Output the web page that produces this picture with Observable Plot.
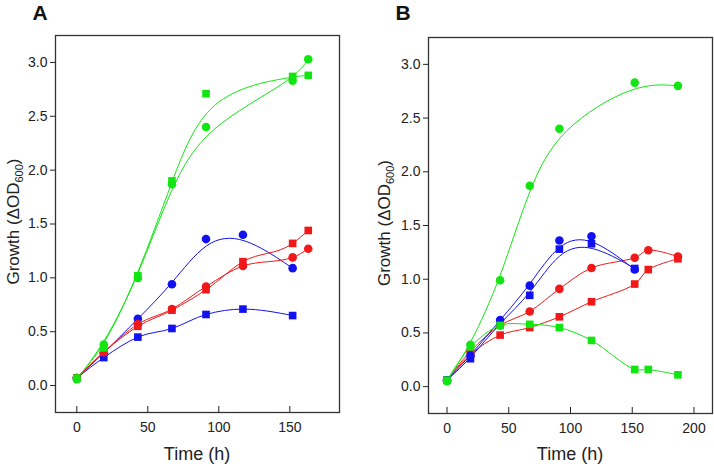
<!DOCTYPE html>
<html><head><meta charset="utf-8">
<script src="https://cdn.jsdelivr.net/npm/d3@7"></script>
<script src="https://cdn.jsdelivr.net/npm/@observablehq/plot@0.6"></script>
<style>
body{margin:0;background:#fff;}
#wrap{position:relative;width:714px;height:467px;font-family:"Liberation Sans",Arial,sans-serif;}
#wrap svg{position:absolute;top:0;}
</style></head><body><div id="wrap"></div>
<script>
// ---- data ----
const timeA = [0, 19, 43, 67, 91, 117, 152, 163];
const timeB = [0, 19, 43, 67, 91, 117, 152, 163, 187];
const yTicks = [0, 0.5, 1.0, 1.5, 2.0, 2.5, 3.0];
const xTicksA = [0, 50, 100, 150];
const xTicksB = [0, 50, 100, 150, 200];

// Panel A
const A_greenCircle = [0.06, 0.38, 1.00, 1.87, 2.40, null, 2.83, 3.03];
const A_greenSquare = [0.07, 0.35, 1.02, 1.90, 2.71, null, 2.87, 2.88];
const A_blueCircle  = [0.07, 0.30, 0.62, 0.94, 1.36, 1.40, 1.09, null];
const A_blueSquare  = [0.07, 0.26, 0.45, 0.53, 0.66, 0.71, 0.65, null];
const A_redCircle   = [0.07, 0.31, 0.57, 0.71, 0.92, 1.11, 1.19, 1.27];
const A_redSquare   = [0.07, 0.31, 0.55, 0.70, 0.89, 1.15, 1.32, 1.44];

// Panel B
const B_greenCircle = [0.05, 0.39, 0.99, 1.87, 2.40, null, 2.83, null, 2.80];
const B_greenSquare = [0.06, 0.37, 0.57, 0.58, 0.55, 0.43, 0.16, 0.16, 0.11];
const B_blueCircle  = [0.06, 0.29, 0.62, 0.94, 1.36, 1.40, 1.09, null, null];
const B_blueSquare  = [0.06, 0.26, 0.60, 0.85, 1.28, 1.33, 1.10, null, null];
const B_redCircle   = [0.06, 0.33, 0.57, 0.70, 0.91, 1.105, 1.20, 1.27, 1.21];
const B_redSquare   = [0.06, 0.30, 0.48, 0.55, 0.65, 0.79, 0.955, 1.09, 1.19];

// ---- styles ----
const GREEN = "#12e612", BLUE = "#1212f0", RED = "#f01818";

function rowsOf(times, values) {
  const r = [];
  values.forEach((v, i) => { if (v != null) r.push({t: times[i], v}); });
  return r;
}

function panel({series, xDomain, xTicks, left, width, ml, mr, mt, mb, letter, letterX, ylabX}) {
  const marks = [];
  for (const s of series) {
    marks.push(Plot.line(s.rows, {x: "t", y: "v", stroke: s.color, strokeWidth: 1, curve: s.curve}));
  }
  for (const s of series) {
    marks.push(Plot.dot(s.rows, {x: "t", y: "v", fill: s.color, stroke: "none", r: 4.3, symbol: s.symbol}));
  }
  marks.push(Plot.frame({stroke: "#333", strokeWidth: 1.3}));
  marks.push(Plot.axisY({ticks: yTicks, tickSize: 5, tickPadding: 3, tickFormat: d3.format(".1f"), label: null}));
  marks.push(Plot.axisX({ticks: xTicks, tickSize: -6, tickPadding: 16, label: null}));
  const node = Plot.plot({
    width, height: 467,
    marginLeft: ml, marginRight: mr, marginTop: mt, marginBottom: mb,
    x: {domain: xDomain},
    y: {domain: [-0.25, 3.25]},
    style: {fontSize: "14px", fontFamily: '"Liberation Sans", Arial, sans-serif', color: "#222", background: "transparent", overflow: "visible"},
    marks
  });
  node.style.left = left + "px";
  const svg = d3.select(node);
  const cx = ml + (width - ml - mr) / 2;
  const cy = mt + (467 - mt - mb) / 2 - 2;
  svg.append("text").attr("x", cx).attr("y", 460).attr("text-anchor", "middle")
    .attr("font-size", 18).attr("fill", "#222").text("Time (h)");
  const yl = svg.append("text").attr("transform", `translate(${ylabX},${cy}) rotate(-90)`)
    .attr("text-anchor", "middle").attr("font-size", 17).attr("fill", "#222");
  yl.append("tspan").text("Growth (ΔOD");
  yl.append("tspan").attr("font-size", 11).attr("dy", 4).text("600");
  yl.append("tspan").attr("dy", -4).text(")");
  svg.append("text").attr("x", letterX).attr("y", 20).attr("font-size", 21)
    .attr("font-weight", "bold").attr("fill", "#111").text(letter);
  document.getElementById("wrap").appendChild(node);
}

panel({
  series: [
    {rows: rowsOf(timeA, A_blueCircle), color: BLUE, symbol: "circle", curve: "basis"},
    {rows: rowsOf(timeA, A_blueSquare), color: BLUE, symbol: "square", curve: "monotone-x"},
    {rows: rowsOf(timeA, A_redCircle), color: RED, symbol: "circle", curve: "monotone-x"},
    {rows: rowsOf(timeA, A_redSquare), color: RED, symbol: "square", curve: "monotone-x"},
    {rows: rowsOf(timeA, A_greenCircle), color: GREEN, symbol: "circle", curve: "basis"},
    {rows: rowsOf(timeA, A_greenSquare), color: GREEN, symbol: "square", curve: "basis"}
  ],
  xDomain: [-15, 185], xTicks: xTicksA, left: 0, width: 357,
  ml: 55, mr: 18, mt: 35, mb: 55, letter: "A", letterX: 40, ylabX: 18.5
});

panel({
  series: [
    {rows: rowsOf(timeB, B_redCircle), color: RED, symbol: "circle", curve: "catmull-rom"},
    {rows: rowsOf(timeB, B_redSquare), color: RED, symbol: "square", curve: "catmull-rom"},
    {rows: rowsOf(timeB, B_blueCircle), color: BLUE, symbol: "circle", curve: "basis"},
    {rows: rowsOf(timeB, B_blueSquare), color: BLUE, symbol: "square", curve: "basis"},
    {rows: rowsOf(timeB, B_greenCircle), color: GREEN, symbol: "circle", curve: "basis"},
    {rows: rowsOf(timeB, B_greenSquare), color: GREEN, symbol: "square", curve: "catmull-rom"}
  ],
  xDomain: [-15, 215], xTicks: xTicksB, left: 357, width: 357,
  ml: 71, mr: 2, mt: 37, mb: 54, letter: "B", letterX: 46, ylabX: 33
});
</script>
</body></html>
